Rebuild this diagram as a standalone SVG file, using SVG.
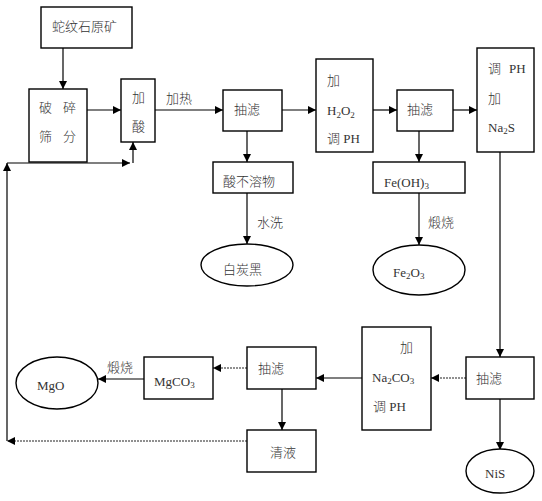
<svg xmlns="http://www.w3.org/2000/svg" width="542" height="501" viewBox="0 0 542 501">
<style>
.b{fill:#fff;stroke:#000;stroke-width:1.4}
.t{font-family:"Liberation Serif","Noto Sans CJK SC",serif;font-size:13px;font-weight:300;fill:#333}
.s{font-size:9px}
.c{fill:none;stroke:#000;stroke-width:1.2}
.d{fill:none;stroke:#222;stroke-width:1.2;stroke-dasharray:2 1}
</style>
<defs>
<marker id="a" viewBox="0 0 10 10" refX="10" refY="5" markerWidth="8" markerHeight="8" markerUnits="userSpaceOnUse" orient="auto">
<path d="M0,0 L10,5 L0,10 z" fill="#000"/>
</marker>
</defs>
<rect width="542" height="501" fill="#fff"/>
<g id="connectors">
<path class="c" d="M63,48 V89" marker-end="url(#a)"/>
<path class="c" d="M87,110 H121" marker-end="url(#a)"/>
<path class="c" d="M155,110 H223" marker-end="url(#a)"/>
<path class="c" d="M7,163 H130" marker-end="url(#a)"/>
<path class="c" d="M133,163 V142" marker-end="url(#a)"/>
<path class="c" d="M7,441 V163" marker-end="url(#a)"/>
<path class="c" d="M282,110 H316" marker-end="url(#a)"/>
<path class="c" d="M373,110 H397" marker-end="url(#a)"/>
<path class="c" d="M453,110 H477" marker-end="url(#a)"/>
<path class="c" d="M247,131 V162" marker-end="url(#a)"/>
<path class="c" d="M247,193 V244" marker-end="url(#a)"/>
<path class="c" d="M419,131 V162" marker-end="url(#a)"/>
<path class="c" d="M419,193 V245" marker-end="url(#a)"/>
<path class="c" d="M500,152 V357" marker-end="url(#a)"/>
<path class="c" d="M500,399 V450" marker-end="url(#a)"/>
<path class="d" d="M466,378 H431" marker-end="url(#a)"/>
<path class="c" d="M362,378 H316" marker-end="url(#a)"/>
<path class="d" d="M247,368 H213" marker-end="url(#a)"/>
<path class="c" d="M144,379 H98" marker-end="url(#a)"/>
<path class="c" d="M282,389 V430" marker-end="url(#a)"/>
<path class="d" d="M247,441 H7" marker-end="url(#a)"/>
</g>
<g id="labels">
<text class="t" x="166" y="103">加热</text>
<text class="t" x="257" y="227">水洗</text>
<text class="t" x="428" y="227">煅烧</text>
<text class="t" x="107" y="372">煅烧</text>
</g>
<g id="ore"><rect class="b" x="41" y="7" width="91" height="41"/><text class="t" x="52" y="31">蛇纹石原矿</text></g>
<g id="crush"><rect class="b" x="29" y="89" width="58" height="73"/><text class="t" x="39" y="112">破</text><text class="t" x="63" y="112">碎</text><text class="t" x="39" y="141">筛</text><text class="t" x="63" y="141">分</text></g>
<g id="acid"><rect class="b" x="121" y="79" width="34" height="63"/><text class="t" x="132" y="102">加</text><text class="t" x="132" y="131">酸</text></g>
<g id="filter1"><rect class="b" x="223" y="90" width="59" height="41"/><text class="t" x="234" y="114">抽滤</text></g>
<g id="insoluble"><rect class="b" x="213" y="162" width="80" height="31"/><text class="t" x="223" y="186">酸不溶物</text></g>
<g id="silica"><ellipse class="b" cx="247" cy="265" rx="46" ry="21"/><text class="t" x="223" y="274">白炭黑</text></g>
<g id="h2o2"><rect class="b" x="316" y="59" width="57" height="93"/><text class="t" x="327" y="85">加</text><text class="t" x="327" y="115">H<tspan class="s" dy="3">2</tspan><tspan dy="-3">O</tspan><tspan class="s" dy="3">2</tspan></text><text class="t" x="327" y="143">调 PH</text></g>
<g id="filter2"><rect class="b" x="397" y="90" width="56" height="41"/><text class="t" x="407" y="114">抽滤</text></g>
<g id="feoh"><rect class="b" x="373" y="162" width="92" height="31"/><text class="t" x="384" y="187">Fe(OH)<tspan class="s" dy="2">3</tspan></text></g>
<g id="fe2o3"><ellipse class="b" cx="419" cy="270" rx="46" ry="25"/><text class="t" x="393" y="277">Fe<tspan class="s" dy="2">2</tspan><tspan dy="-2">O</tspan><tspan class="s" dy="2">3</tspan></text></g>
<g id="na2s"><rect class="b" x="477" y="48" width="57" height="104"/><text class="t" x="488" y="73">调</text><text class="t" x="509" y="73">PH</text><text class="t" x="488" y="103">加</text><text class="t" x="488" y="132">Na<tspan class="s" dy="2">2</tspan><tspan dy="-2">S</tspan></text></g>
<g id="filter3"><rect class="b" x="466" y="357" width="68" height="42"/><text class="t" x="476" y="383">抽滤</text></g>
<g id="nis"><ellipse class="b" cx="500" cy="471" rx="34" ry="22"/><text class="t" x="485" y="478">NiS</text></g>
<g id="na2co3"><rect class="b" x="362" y="327" width="69" height="103"/><text class="t" x="400" y="352">加</text><text class="t" x="372" y="382">Na<tspan class="s" dy="2">2</tspan><tspan dy="-2">CO</tspan><tspan class="s" dy="2">3</tspan></text><text class="t" x="373" y="411">调 PH</text></g>
<g id="filter4"><rect class="b" x="247" y="347" width="69" height="42"/><text class="t" x="258" y="373">抽滤</text></g>
<g id="mgco3"><rect class="b" x="144" y="357" width="69" height="42"/><text class="t" x="154" y="386">MgCO<tspan class="s" dy="2">3</tspan></text></g>
<g id="mgo"><ellipse class="b" cx="57" cy="383" rx="41" ry="26"/><text class="t" x="37" y="390">MgO</text></g>
<g id="filtrate"><rect class="b" x="247" y="430" width="69" height="42"/><text class="t" x="270" y="457">清液</text></g>
</svg>
